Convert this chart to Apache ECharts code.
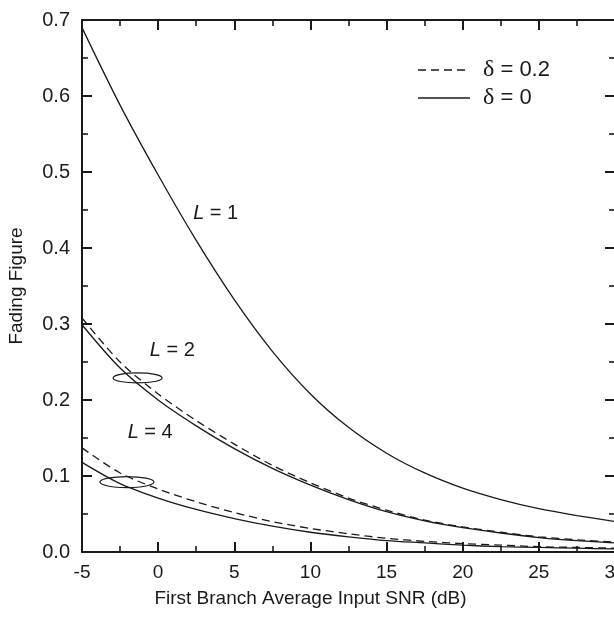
<!DOCTYPE html>
<html>
<head>
<meta charset="utf-8">
<script src="https://cdn.jsdelivr.net/npm/echarts@6/dist/echarts.min.js"></script>
<style>
  html, body { margin: 0; padding: 0; background: #fff; }
  #chart { width: 614px; height: 625px; }
</style>
</head>
<body>
<div id="chart"></div>
<script>
// SNR (dB) sample points
var snr = [-5, -2.5, 0, 2.5, 5, 7.5, 10, 12.5, 15, 17.5, 20, 22.5, 25, 27.5, 30];
// fading figure
var l1 = [0.690, 0.588, 0.496, 0.410, 0.332, 0.264, 0.208, 0.164, 0.130, 0.104, 0.084, 0.069, 0.057, 0.048, 0.040];
var l2Solid = [0.299, 0.242, 0.200, 0.166, 0.136, 0.110, 0.088, 0.069, 0.053, 0.041, 0.032, 0.025, 0.019, 0.015, 0.012];
var l2Dash = [0.308, 0.250, 0.208, 0.173, 0.142, 0.114, 0.091, 0.071, 0.055, 0.042, 0.033, 0.026, 0.020, 0.016, 0.013];
var l4Solid = [0.118, 0.090, 0.071, 0.056, 0.044, 0.034, 0.026, 0.020, 0.015, 0.012, 0.009, 0.007, 0.006, 0.005, 0.004];
var l4Dash = [0.137, 0.104, 0.083, 0.066, 0.052, 0.040, 0.031, 0.024, 0.018, 0.014, 0.011, 0.009, 0.007, 0.006, 0.005];
var xTicks = [-5, 0, 5, 10, 15, 20, 25, 30];
var yTicks = ['0.0', '0.1', '0.2', '0.3', '0.4', '0.5', '0.6', '0.7'];
var deltas = ['0.2', '0'];

var FONT = 'Liberation Sans, Arial, Helvetica, sans-serif';
var SERIF = 'Liberation Serif, Times New Roman, serif';
var INK = '#1a1a1a';
var DASH = [8, 5];

function pairs(ys) {
  return snr.map(function (x, i) { return [x, ys[i]]; });
}

function curve(name, ys, dashed) {
  return {
    name: name,
    type: 'line',
    data: pairs(ys),
    smooth: 0.3,
    symbol: 'none',
    silent: true,
    lineStyle: { color: INK, width: 1.3, type: dashed ? DASH : 'solid' }
  };
}

function axisBase(showLabel, fontSize, margin) {
  return {
    axisLine: { show: true, onZero: false, lineStyle: { color: INK, width: 2 } },
    axisTick: { show: true, inside: true, length: 10, lineStyle: { color: INK, width: 2 } },
    minorTick: { show: true, splitNumber: 2, length: 6, lineStyle: { color: INK, width: 1.6 } },
    splitLine: { show: false },
    axisLabel: { show: showLabel, color: INK, fontSize: fontSize, fontFamily: FONT, margin: margin }
  };
}

var chart = echarts.init(document.getElementById('chart'));

var xBottom = Object.assign(axisBase(true, 19, 11), {
  type: 'value', position: 'bottom', min: -5, max: 30, interval: 5,
  name: 'First Branch Average Input SNR (dB)', nameLocation: 'middle', nameGap: 37,
  // the original plot runs past the right edge, so its title sits left of centre
  nameTextStyle: { color: INK, fontSize: 19, fontFamily: FONT, padding: [0, 76, 0, 0] }
});
xBottom.axisLabel.formatter = function (v) { return xTicks.indexOf(v) >= 0 ? String(v) : ''; };
var xTop = Object.assign(axisBase(false, 19, 11), {
  type: 'value', position: 'top', min: -5, max: 30, interval: 5
});
var yLeft = Object.assign(axisBase(true, 20, 12), {
  type: 'value', position: 'left', min: 0, max: 0.7, interval: 0.1,
  name: 'Fading Figure', nameLocation: 'middle', nameGap: 56,
  nameTextStyle: { color: INK, fontSize: 19, fontFamily: FONT }
});
yLeft.axisLabel.formatter = function (v) { return yTicks[Math.round(v * 10)]; };
var yRight = Object.assign(axisBase(false, 20, 12), {
  type: 'value', position: 'right', min: 0, max: 0.7, interval: 0.1
});

chart.setOption({
  backgroundColor: '#fff',
  animation: false,
  grid: { left: 82, top: 20, right: -1, bottom: 73, containLabel: false, outerBoundsMode: 'none' },
  xAxis: [xBottom, xTop],
  yAxis: [yLeft, yRight],
  series: [
    curve('L1', l1, false),
    curve('L2 d', l2Dash, true),
    curve('L2', l2Solid, false),
    curve('L4 d', l4Dash, true),
    curve('L4', l4Solid, false)
  ]
});

// annotation anchors in data units: curve labels and the grouping ellipses
var labels = [
  { txt: '1', at: [2.3, 0.459] },
  { txt: '2', at: [-0.55, 0.278] },
  { txt: '4', at: [-2.0, 0.170] }
];
var rings = [
  { at: [-1.35, 0.229], rx: 24.5, ry: 5 },
  { at: [-2.05, 0.092], rx: 27, ry: 5.5 }
];

var gfx = [];
labels.forEach(function (l) {
  var p = chart.convertToPixel({ gridIndex: 0 }, l.at);
  gfx.push({
    type: 'text', x: p[0], y: p[1], silent: true,
    style: {
      text: '{i|L} = ' + l.txt,
      fill: INK, font: '20px ' + FONT,
      rich: { i: { fontStyle: 'italic', fontSize: 20, fontFamily: FONT, fill: INK } }
    }
  });
});
rings.forEach(function (r) {
  var p = chart.convertToPixel({ gridIndex: 0 }, r.at);
  gfx.push({
    type: 'ellipse', silent: true,
    shape: { cx: p[0], cy: p[1], rx: r.rx, ry: r.ry },
    style: { fill: 'none', stroke: INK, lineWidth: 1.2 }
  });
});

// legend drawn by hand: dashed = delta 0.2, solid = delta 0
deltas.forEach(function (d, i) {
  var y = 70 + i * 28;
  gfx.push({
    type: 'line', silent: true,
    shape: { x1: 418, y1: y, x2: i === 0 ? 467 : 470, y2: y },
    style: { stroke: INK, lineWidth: 1.3, lineDash: i === 0 ? DASH : null }
  });
  gfx.push({
    type: 'text', silent: true, x: 483, y: y,
    style: {
      text: '{d|\u03b4} = ' + d,
      fill: INK, font: '22px ' + FONT, verticalAlign: 'middle',
      rich: { d: { fontFamily: SERIF, fontSize: 24, fill: INK } }
    }
  });
});
chart.setOption({ graphic: gfx });
</script>
</body>
</html>
